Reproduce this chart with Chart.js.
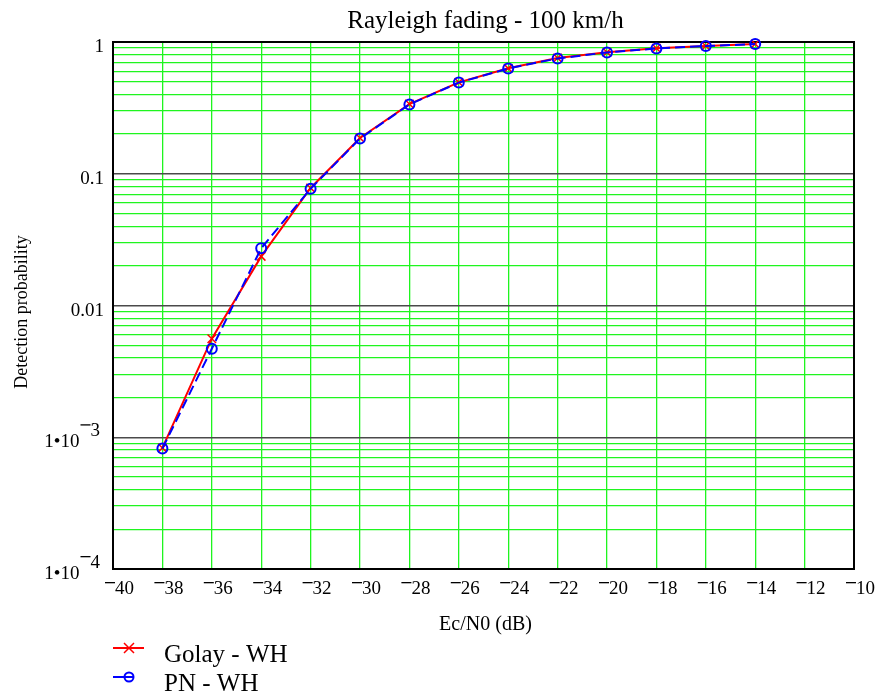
<!DOCTYPE html>
<html>
<head>
<meta charset="utf-8">
<script src="https://cdn.jsdelivr.net/npm/chart.js@4.4.1/dist/chart.umd.min.js"></script>
<style>
  html, body { margin: 0; padding: 0; background: #fff; }
  canvas { display: block; }
</style>
</head>
<body>
<canvas id="chart" width="881" height="696"></canvas>
<script>
// Ec/N0 operating points (dB)
const ecN0 = [-38, -36, -34, -32, -30, -28, -26, -24, -22, -20, -18, -16, -14];
// Detection probability, Golay - WH
const golayWH = [8.3e-4, 5.6e-3, 0.0236, 0.078, 0.187, 0.338, 0.494, 0.631, 0.757, 0.836, 0.896, 0.932, 0.966];
// Detection probability, PN - WH
const pnWH = [8.2e-4, 4.7e-3, 0.0272, 0.077, 0.185, 0.336, 0.492, 0.629, 0.750, 0.833, 0.893, 0.931, 0.965];

const seriesNames = ['Golay - WH', 'PN - WH'];
const chartTitle = 'Rayleigh fading - 100 km/h';
const xTitle = 'Ec/N0 (dB)';
const yTitle = 'Detection probability';

// Axis ticks
const xTickValues = [-40, -38, -36, -34, -32, -30, -28, -26, -24, -22, -20, -18, -16, -14, -12, -10];
const xTickLabels = ['−40', '−38', '−36', '−34', '−32', '−30', '−28', '−26', '−24', '−22', '−20', '−18', '−16', '−14', '−12', '−10'];
const yDecadeValues = [1e-4, 1e-3, 0.01, 0.1, 1];
const yDecadeLabels = ['1•10−4', '1•10−3', '0.01', '0.1', '1'];
const yMinorSteps = [2, 3, 4, 5, 6, 7, 8, 9];

const FONT = '"Liberation Serif", "Times New Roman", serif';
const GREEN = '#1ff51f';
const RED = '#ff0000';
const BLUE = '#0000ff';

// every grid line of the log axis: decades plus 2..9 inside each decade
const yGridValues = [];
yDecadeValues.forEach((d, i) => {
  yGridValues.push(d);
  if (i < yDecadeValues.length - 1) yMinorSteps.forEach(s => yGridValues.push(+(d * s).toPrecision(3)));
});
const isDecade = v => yDecadeValues.some(d => Math.abs(v - d) / d < 1e-6);

// number with a Mathcad-style raised minus sign
function drawNeg(ctx, x, base, digits) {
  ctx.fillRect(x, base - 12, 10, 1.3);
  ctx.textAlign = 'left';
  ctx.fillText(digits, x + 10, base);
}

const framePlugin = {
  id: 'frame',
  beforeDatasetsDraw(chart) {
    const { ctx, chartArea: a } = chart;
    ctx.save();
    ctx.strokeStyle = '#000';
    ctx.lineWidth = 2;
    ctx.strokeRect(a.left, a.top, a.right - a.left, a.bottom - a.top);
    ctx.restore();
  }
};

const textPlugin = {
  id: 'texts',
  afterDraw(chart) {
    const { ctx, chartArea: a } = chart;
    const xs = chart.scales.x, ys = chart.scales.y;
    ctx.save();
    ctx.fillStyle = '#000';
    ctx.textBaseline = 'alphabetic';

    // title
    ctx.font = '25px ' + FONT;
    ctx.textAlign = 'center';
    ctx.fillText(chartTitle, (a.left + a.right) / 2 + 2, 28);

    // x tick labels
    ctx.font = '19px ' + FONT;
    xTickValues.forEach((v, i) => {
      const px = xs.getPixelForValue(v);
      const lbl = xTickLabels[i];
      const base = a.bottom + 25;
      if (lbl.startsWith('−')) drawNeg(ctx, px - 8, base, lbl.slice(1));
      else { ctx.textAlign = 'center'; ctx.fillText(lbl, px + 2, base); }
    });

    // y tick labels
    yDecadeValues.forEach((v, i) => {
      const py = ys.getPixelForValue(v);
      const base = py + 10;
      const lbl = yDecadeLabels[i];
      const k = lbl.indexOf('−');
      if (k >= 0) {
        const mant = lbl.slice(0, k), exp = lbl.slice(k + 1);
        const wM = ctx.measureText(mant).width;
        const wE = ctx.measureText(exp).width;
        const start = a.left - 13 - (wM + 1 + 10 + wE);
        ctx.textAlign = 'left';
        ctx.fillText(mant, start, base);
        drawNeg(ctx, start + wM + 1, base - 11, exp);
      } else {
        ctx.textAlign = 'right';
        ctx.fillText(lbl, a.left - 9, base);
      }
    });

    // axis titles
    ctx.font = '20px ' + FONT;
    ctx.textAlign = 'center';
    ctx.fillText(xTitle, (a.left + a.right) / 2 + 2, 630);
    ctx.save();
    ctx.translate(27, 312);
    ctx.rotate(-Math.PI / 2);
    ctx.font = '18px ' + FONT;
    ctx.fillText(yTitle, 0, 0);
    ctx.restore();

    // legend
    const lx0 = 113, lx1 = 144, mx = 129;
    const rows = [648, 677];
    ctx.lineWidth = 2;
    // Golay row: line with rotated cross
    ctx.strokeStyle = RED;
    ctx.beginPath();
    ctx.moveTo(lx0, rows[0]); ctx.lineTo(lx1, rows[0]);
    ctx.stroke();
    ctx.lineWidth = 1.5;
    ctx.beginPath();
    ctx.moveTo(mx - 5, rows[0] - 5); ctx.lineTo(mx + 5, rows[0] + 5);
    ctx.moveTo(mx - 5, rows[0] + 5); ctx.lineTo(mx + 5, rows[0] - 5);
    ctx.stroke();
    // PN row: line with circle
    ctx.strokeStyle = BLUE;
    ctx.lineWidth = 2;
    ctx.beginPath();
    ctx.moveTo(lx0, rows[1]); ctx.lineTo(mx + 4.5, rows[1]);
    ctx.stroke();
    ctx.beginPath();
    ctx.arc(mx, rows[1], 4.5, 0, Math.PI * 2);
    ctx.stroke();

    ctx.font = '25px ' + FONT;
    ctx.textAlign = 'left';
    ctx.fillText(seriesNames[0], 164, 662);
    ctx.fillText(seriesNames[1], 164, 691);
    ctx.restore();
  }
};

new Chart(document.getElementById('chart'), {
  type: 'line',
  data: {
    datasets: [
      {
        label: seriesNames[0],
        data: ecN0.map((x, i) => ({ x, y: golayWH[i] })),
        borderColor: RED,
        backgroundColor: RED,
        borderWidth: 2,
        pointStyle: 'crossRot',
        pointRadius: 6,
        pointBorderWidth: 1.5,
        tension: 0,
        clip: false,
        order: 1
      },
      {
        label: seriesNames[1],
        data: ecN0.map((x, i) => ({ x, y: pnWH[i] })),
        borderColor: BLUE,
        backgroundColor: 'rgba(0,0,0,0)',
        borderWidth: 2,
        borderDash: [10, 5],
        pointStyle: 'circle',
        pointRadius: 5,
        pointBorderWidth: 2,
        tension: 0,
        clip: false,
        order: 0
      }
    ]
  },
  options: {
    responsive: false,
    devicePixelRatio: 1,
    animation: false,
    layout: { padding: { top: 42, right: 27, left: 0, bottom: 0 } },
    plugins: { legend: { display: false }, title: { display: false }, tooltip: { enabled: false } },
    scales: {
      x: {
        type: 'linear',
        min: -40,
        max: -10,
        afterBuildTicks: s => { s.ticks = xTickValues.map(v => ({ value: v })); },
        afterFit: s => { s.height = 127; },
        ticks: { display: false },
        grid: { color: GREEN, lineWidth: 1.3, drawTicks: false },
        border: { display: false }
      },
      y: {
        type: 'logarithmic',
        min: 1e-4,
        max: 1,
        afterBuildTicks: s => { s.ticks = yGridValues.map(v => ({ value: v })); },
        afterFit: s => { s.width = 113; },
        ticks: { display: false },
        grid: {
          color: c => (c.tick && isDecade(c.tick.value)) ? '#4a4a4a' : GREEN,
          lineWidth: c => (c.tick && isDecade(c.tick.value)) ? 1.4 : 1.3,
          drawTicks: false
        },
        border: { display: false }
      }
    }
  },
  plugins: [framePlugin, textPlugin]
});
</script>
</body>
</html>
